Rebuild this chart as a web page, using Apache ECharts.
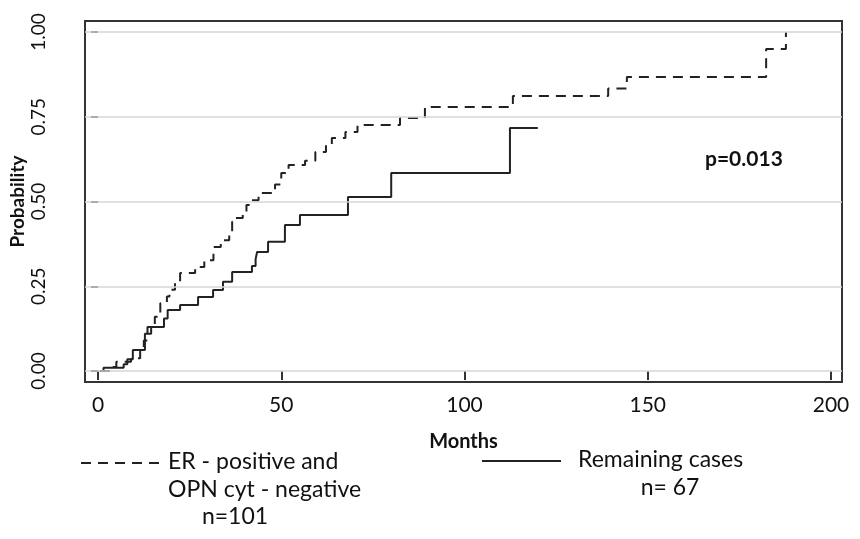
<!DOCTYPE html>
<html>
<head>
<meta charset="utf-8">
<script src="https://cdn.jsdelivr.net/npm/echarts@6/dist/echarts.min.js"></script>
<style>
  html, body { margin: 0; padding: 0; background: #fff; }
  #chart { width: 860px; height: 539px; }
</style>
</head>
<body>
<div id="chart"></div>
<script>
// cumulative probability, [months, probability] at each step
var erPosOpnNeg = [
    [0.5, 0], [3.5, 0.012], [5, 0.027], [9, 0.038], [11.5, 0.06], [12.5, 0.09],
    [13.5, 0.11], [14.5, 0.13], [15.5, 0.16], [17, 0.2], [18.8, 0.22], [19.5, 0.24],
    [21, 0.26], [22.4, 0.289], [26.5, 0.307], [29, 0.327], [31.5, 0.366], [33.5, 0.386],
    [35.8, 0.41], [36.6, 0.44], [37.2, 0.451], [39.5, 0.47], [40.5, 0.49], [41.2, 0.504],
    [43.8, 0.525], [48.3, 0.55], [50, 0.584], [52, 0.608], [56.5, 0.62], [59.3, 0.646],
    [62.2, 0.667], [63.8, 0.687], [67.5, 0.705], [70.8, 0.726], [82.4, 0.746],
    [89.2, 0.779], [113.2, 0.811], [139.2, 0.833], [144.3, 0.867], [182.3, 0.95],
    [187.7, 1.0]
];
var remaining = [
    [0.5, 0], [1.5, 0.01], [7, 0.02], [8, 0.035], [9.5, 0.062], [12.8, 0.11],
    [13.5, 0.13], [18, 0.155], [19, 0.18], [22.4, 0.195], [27.3, 0.218], [31.4, 0.239],
    [34.1, 0.263], [36.6, 0.292], [42, 0.31], [43, 0.33], [43.4, 0.351], [46.4, 0.381],
    [51, 0.431], [55.1, 0.46], [68.2, 0.513], [80, 0.584], [112.4, 0.717], [120, 0.717]
];
var xTicks = [0, 50, 100, 150, 200];
var yTicks = [0, 0.25, 0.5, 0.75, 1];
var pValue = 'p=0.013';

var font = 'Lato, "Open Sans", sans-serif';
var dashedStyle = { color: '#222', width: 2, type: [10, 7] };
var solidStyle = { color: '#222', width: 2, type: 'solid' };

var chart = echarts.init(document.getElementById('chart'));

var option = {
    animation: false,
    backgroundColor: '#fff',
    grid: {
        left: 85, right: 18, top: 21, bottom: 157,
        containLabel: false,
        outerBoundsMode: 'none',
        show: true, borderColor: '#333', borderWidth: 2
    },
    xAxis: {
        type: 'value',
        min: -3.55, max: 203,
        name: 'Months',
        nameLocation: 'middle',
        nameGap: 50,
        nameMoveOverlap: false,
        nameTextStyle: { fontFamily: font, fontWeight: 'bold', fontSize: 20, color: '#111' },
        axisLine: { show: false },
        axisTick: { show: true, length: 9, customValues: xTicks, lineStyle: { color: '#333', width: 2 } },
        axisLabel: { customValues: xTicks, margin: 13, fontFamily: font, fontSize: 21, color: '#111' },
        splitLine: { show: false }
    },
    yAxis: {
        type: 'value',
        min: -0.0324, max: 1.0324,
        name: 'Probability',
        nameLocation: 'middle',
        nameGap: 58,
        nameMoveOverlap: false,
        nameTextStyle: { fontFamily: font, fontWeight: 'bold', fontSize: 19, color: '#111' },
        axisLine: { show: false },
        axisTick: { show: true, length: 7, customValues: yTicks, lineStyle: { color: '#333', width: 2 } },
        axisLabel: {
            customValues: yTicks, rotate: 90, margin: 37,
            fontFamily: font, fontSize: 19, color: '#111',
            formatter: function (v) { return v.toFixed(2); }
        },
        splitLine: { show: false }
    },
    series: [
        {
            name: 'grid',
            type: 'line',
            data: [],
            silent: true,
            markLine: {
                silent: true,
                symbol: 'none',
                label: { show: false },
                lineStyle: { color: '#d6d6d6', width: 1.5, type: 'solid' },
                data: yTicks.map(function (v) { return { yAxis: v }; })
            }
        },
        {
            name: 'ER - positive and OPN cyt - negative',
            type: 'line',
            step: 'end',
            showSymbol: false,
            data: erPosOpnNeg,
            lineStyle: dashedStyle
        },
        {
            name: 'Remaining cases',
            type: 'line',
            step: 'end',
            showSymbol: false,
            data: remaining,
            lineStyle: solidStyle
        }
    ],
    graphic: [
        {
            type: 'text', left: 705, top: 149,
            style: { text: pValue, fontFamily: font, fontWeight: 'bold', fontSize: 21, fill: '#111' }
        },
        {
            type: 'line', shape: { x1: 81, y1: 463, x2: 160, y2: 463 },
            style: { stroke: dashedStyle.color, lineWidth: 2, lineDash: dashedStyle.type }
        },
        {
            type: 'text', left: 168, top: 448,
            style: { text: 'ER - positive and\nOPN cyt - negative', lineHeight: 28,
                     fontFamily: font, fontSize: 23, fill: '#111' }
        },
        {
            type: 'text', x: 235, y: 505,
            style: { text: 'n=101', align: 'center', fontFamily: font, fontSize: 23, fill: '#111' }
        },
        {
            type: 'line', shape: { x1: 482, y1: 461, x2: 561, y2: 461 },
            style: { stroke: solidStyle.color, lineWidth: 2 }
        },
        {
            type: 'text', left: 578, top: 448,
            style: { text: 'Remaining cases', fontFamily: font, fontSize: 23, fill: '#111' }
        },
        {
            type: 'text', x: 670, y: 476,
            style: { text: 'n= 67', align: 'center', fontFamily: font, fontSize: 23, fill: '#111' }
        }
    ]
};

chart.setOption(option);

window.onresize = function () {
    chart.resize();
};
</script>
</body>
</html>
